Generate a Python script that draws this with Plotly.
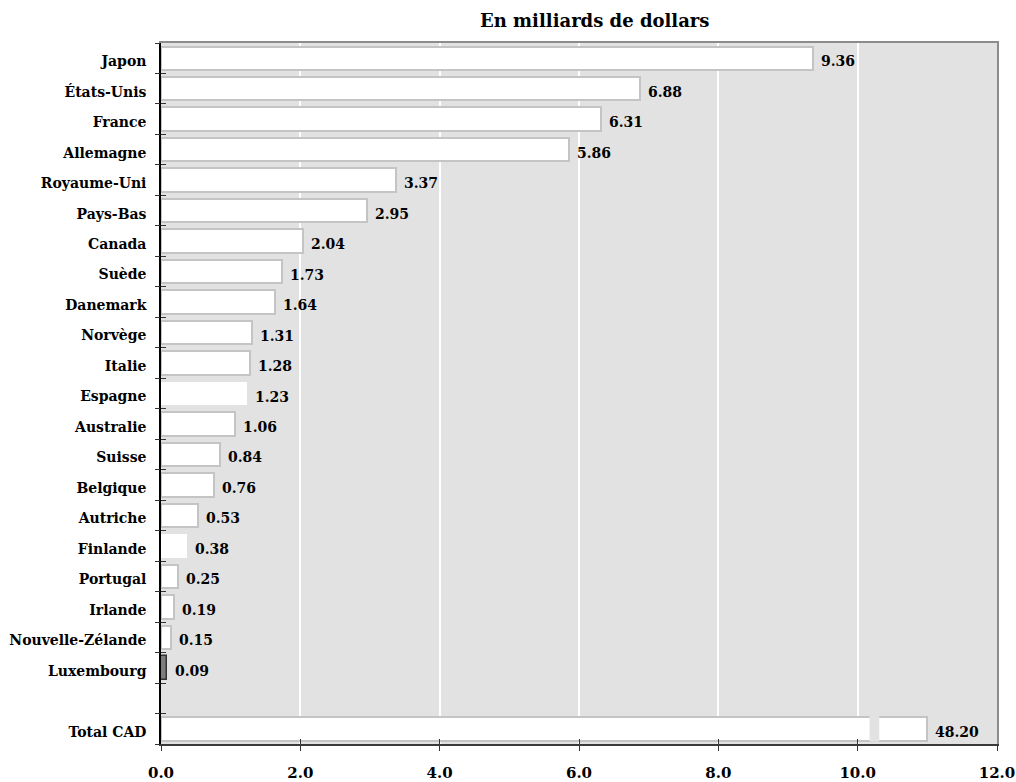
import plotly.graph_objects as go

# Aide publique au développement par pays donneur (milliards de dollars)
countries = [
    "Japon", "États-Unis", "France", "Allemagne", "Royaume-Uni", "Pays-Bas",
    "Canada", "Suède", "Danemark", "Norvège", "Italie", "Espagne",
    "Australie", "Suisse", "Belgique", "Autriche", "Finlande", "Portugal",
    "Irlande", "Nouvelle-Zélande", "Luxembourg",
]
values = [
    9.36, 6.88, 6.31, 5.86, 3.37, 2.95, 2.04, 1.73, 1.64, 1.31, 1.28, 1.23,
    1.06, 0.84, 0.76, 0.53, 0.38, 0.25, 0.19, 0.15, 0.09,
]
total_label = "Total CAD"
total_value = 48.20

x_ticks = [0, 2, 4, 6, 8, 10, 12]
x_ticktext = ["0.0", "2.0", "4.0", "6.0", "8.0", "10.0", "12.0"]

# Broken axis for the total bar: its length stops past the break
BREAK_START = 10.17
BREAK_END = 10.31
TOTAL_SHOWN = 11.0

FONT = "DejaVu Serif"
PLOT_BG = "#e2e2e2"
BAR_EDGE = "#c4c4c4"

n = len(countries)
pos = list(range(n)) + [n + 1]
labels = countries + [total_label]
shown = values + [TOTAL_SHOWN if total_value > BREAK_START else total_value]
all_values = values + [total_value]

fills, edges, edge_w = [], [], []
for name in labels:
    if name == "Luxembourg":
        fills.append("#7d7d7d"); edges.append("#333333"); edge_w.append(1.5)
    elif name in ("Espagne", "Finlande"):
        fills.append("white"); edges.append("white"); edge_w.append(0)
    else:
        fills.append("white"); edges.append(BAR_EDGE); edge_w.append(2)

fig = go.Figure()
fig.add_trace(go.Bar(
    y=pos, x=shown, orientation="h", width=0.77,
    marker=dict(color=fills, line=dict(color=edges, width=edge_w)),
    hoverinfo="skip", showlegend=False,
))

# empty traces so the overlay axes (crossing ticks, frame) get drawn
for xa, ya in (("x2", "y2"), ("x3", "y3"), ("x", "y4")):
    fig.add_trace(go.Scatter(
        x=[None], y=[None], xaxis=xa, yaxis=ya, mode="markers",
        showlegend=False, hoverinfo="skip",
    ))

annotations = []
for p, s, v in zip(pos, shown, all_values):
    annotations.append(dict(
        x=s, y=p, xref="x", yref="y", text=f"<b>{v:.2f}</b>",
        showarrow=False, xanchor="left", yanchor="middle", xshift=6, yshift=-3,
        font=dict(family=FONT, size=14, color="black"),
    ))
annotations.append(dict(
    x=0.519, y=1, xref="paper", yref="paper", yanchor="bottom", yshift=10,
    text="<b>En milliards de dollars</b>", showarrow=False,
    font=dict(family=FONT, size=18, color="black"),
))

shapes = [dict(
    type="rect", xref="x", yref="y",
    x0=BREAK_START, x1=BREAK_END, y0=n + 1 - 0.42, y1=n + 1 + 0.42,
    fillcolor=PLOT_BG, line=dict(width=0), layer="above",
)]

y_range = [n + 1.5, -0.5]
boundaries = [k + 0.5 for k in range(-1, n + 2)]
tick_font = dict(family=FONT, size=14, color="black")
hidden = dict(showticklabels=False, showgrid=False, zeroline=False, automargin=False)

fig.update_layout(
    width=1016, height=782,
    margin=dict(l=161, r=19, t=43, b=38),
    paper_bgcolor="white", plot_bgcolor=PLOT_BG,
    bargap=0, annotations=annotations, shapes=shapes,
    xaxis=dict(
        range=[0, 12], tickvals=x_ticks, ticktext=[f"<b>{t}</b>" for t in x_ticktext],
        ticks="outside", ticklen=5, tickcolor="#333333", tickwidth=1,
        showgrid=True, gridcolor="white", gridwidth=2,
        showline=True, linecolor="#3a3a3a", linewidth=2,
        zeroline=False, tickfont=dict(family=FONT, size=15, color="black"),
        ticklabelstandoff=9, automargin=False, fixedrange=True,
    ),
    xaxis2=dict(
        overlaying="x", anchor="y", side="bottom", range=[0, 12], tickvals=x_ticks,
        ticks="inside", ticklen=5, tickcolor="#333333", tickwidth=1,
        showline=False, **hidden,
    ),
    xaxis3=dict(
        overlaying="x", anchor="y", side="top", range=[0, 12], ticks="",
        showline=True, linecolor="#8c8c8c", linewidth=2, **hidden,
    ),
    yaxis=dict(
        range=y_range, tickvals=pos, ticktext=[f"<b>{t}</b>" for t in labels],
        ticks="", showgrid=False, zeroline=False,
        showline=True, linecolor="black", linewidth=1.5,
        tickfont=tick_font, ticklabelstandoff=10, ticklabelshift=-3,
        automargin=False, fixedrange=True,
    ),
    yaxis2=dict(
        overlaying="y", anchor="x", side="left", range=y_range, tickvals=boundaries,
        ticks="outside", ticklen=5, tickcolor="#333333", tickwidth=1,
        showline=False, **hidden,
    ),
    yaxis3=dict(
        overlaying="y", anchor="x", side="left", range=y_range, tickvals=boundaries,
        ticks="inside", ticklen=5, tickcolor="#333333", tickwidth=1,
        showline=False, **hidden,
    ),
    yaxis4=dict(
        overlaying="y", anchor="x", side="right", range=y_range, ticks="",
        showline=True, linecolor="#8c8c8c", linewidth=2, **hidden,
    ),
)

fig.write_html("out.html")
